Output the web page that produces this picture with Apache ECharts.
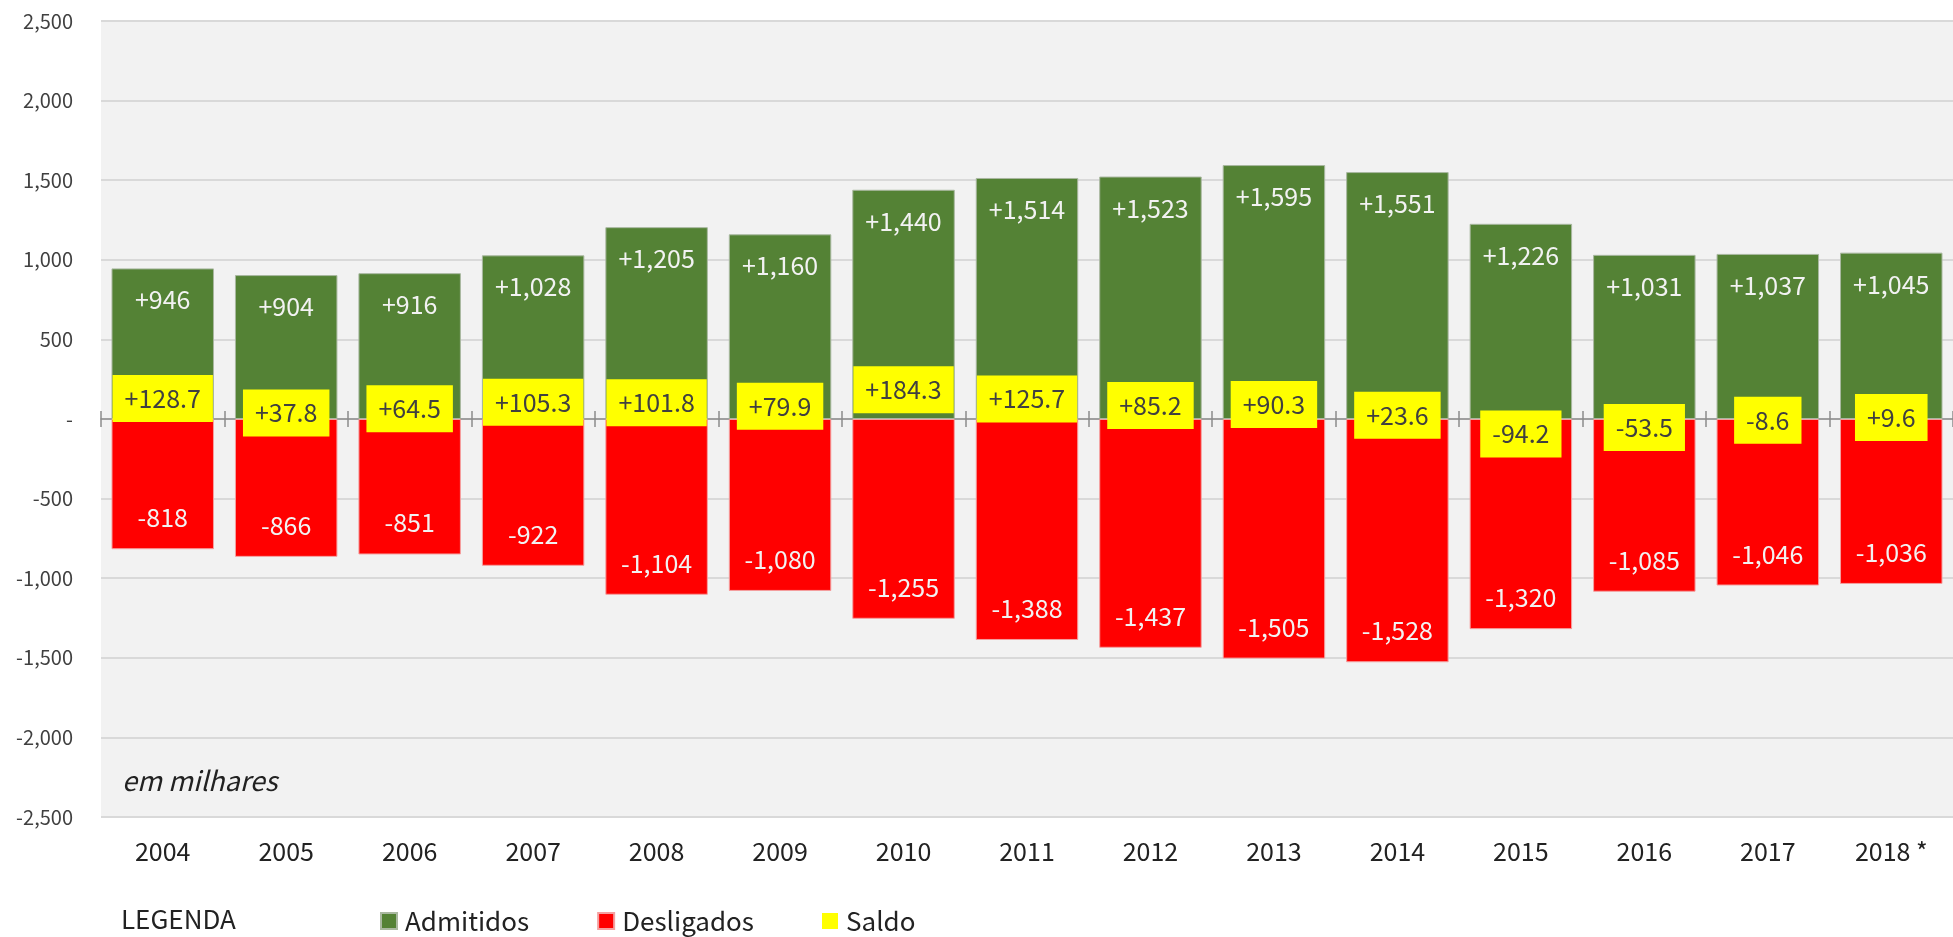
<!DOCTYPE html>
<html>
<head>
<meta charset="utf-8">
<script src="https://cdn.jsdelivr.net/npm/echarts@6/dist/echarts.min.js"></script>
<style>
  html, body { margin: 0; padding: 0; background: #ffffff; }
  #chart { width: 1953px; height: 937px; }
</style>
</head>
<body>
<div id="chart"></div>
<script>
const years = ['2004', '2005', '2006', '2007', '2008', '2009', '2010', '2011', '2012', '2013', '2014', '2015', '2016', '2017', '2018 *']
const admitidos = [946, 904, 916, 1028, 1205, 1160, 1440, 1514, 1523, 1595, 1551, 1226, 1031, 1037, 1045]
const desligados = [-818, -866, -851, -922, -1104, -1080, -1255, -1388, -1437, -1505, -1528, -1320, -1085, -1046, -1036]
const saldo = [128.7, 37.8, 64.5, 105.3, 101.8, 79.9, 184.3, 125.7, 85.2, 90.3, 23.6, -94.2, -53.5, -8.6, 9.6]

const FONT = '"Noto Sans CJK JP", "Noto Sans", sans-serif'
const fmt = v => v.toLocaleString('en-US')

const chart = echarts.init(document.getElementById('chart'))

// eixo das categorias (rotulos em baixo) + dois eixos so para a linha do zero e as marcas
const tickAxis = (pos) => ({
  type: 'category',
  data: years,
  position: pos,
  axisLine: { show: pos === 'bottom', onZero: true, onZeroAxisIndex: 0, lineStyle: { color: '#8c8c8c', width: 1.5 } },
  axisTick: { show: true, length: 8, lineStyle: { color: '#8c8c8c', width: 1.5 } },
  axisLabel: { show: false },
  splitLine: { show: false }
})

const option = {
  backgroundColor: '#ffffff',
  textStyle: { fontFamily: FONT },
  grid: {
    left: 101, right: 0, top: 21, bottom: 120,
    show: true, backgroundColor: '#f2f2f2', borderWidth: 0,
    outerBoundsMode: 'none'
  },
  legend: {
    left: 375, top: 903,
    icon: 'rect', itemWidth: 16, itemHeight: 16, itemGap: 68,
    textStyle: { fontSize: 26, color: '#222', fontFamily: FONT, padding: [0, 0, 0, 3] },
    data: ['Admitidos', 'Desligados', 'Saldo']
  },
  graphic: [
    { type: 'text', left: 121, top: 906, style: { text: 'LEGENDA', fontSize: 26, fill: '#222', fontFamily: FONT } },
    { type: 'text', left: 122, top: 767, style: { text: 'em milhares', fontSize: 27, fontStyle: 'italic', fill: '#222', fontFamily: FONT } }
  ],
  xAxis: [
    {
      type: 'category',
      data: years,
      position: 'bottom',
      axisLine: { show: false, onZero: false },
      axisTick: { show: false },
      axisLabel: { fontSize: 25, color: '#222', margin: 22 }
    },
    tickAxis('bottom'),
    tickAxis('top')
  ],
  yAxis: {
    type: 'value',
    min: -2500, max: 2500, interval: 500,
    axisLine: { show: false },
    axisTick: { show: false },
    axisLabel: { fontSize: 20, color: '#404040', margin: 28, formatter: v => v === 0 ? '-' : fmt(v) },
    splitLine: { lineStyle: { color: '#d9d9d9', width: 2 } }
  },
  series: [
    {
      name: 'Admitidos',
      type: 'bar',
      stack: 'total',
      barCategoryGap: '17%',
      data: admitidos,
      itemStyle: { color: '#548235', borderColor: '#a9b8a0', borderWidth: 1 },
      label: {
        show: true, position: 'insideTop', distance: 19,
        fontSize: 25, color: '#f2f2f2',
        formatter: p => '+' + fmt(p.value)
      }
    },
    {
      name: 'Desligados',
      type: 'bar',
      stack: 'total',
      data: desligados,
      itemStyle: { color: '#ff0000', borderColor: '#f4a0a0', borderWidth: 1 },
      label: {
        show: true, position: 'insideBottom', distance: 19,
        fontSize: 25, color: '#f2f2f2',
        formatter: p => fmt(p.value)
      }
    },
    {
      name: 'Saldo',
      type: 'scatter',
      data: saldo,
      symbol: 'rect',
      symbolSize: 1,
      itemStyle: { color: '#ffff00', opacity: 1 },
      z: 5,
      label: {
        show: true, position: 'inside',
        fontSize: 25, color: '#404040',
        backgroundColor: '#ffff00',
        padding: [11, 12],
        formatter: p => (p.value > 0 ? '+' : '') + p.value.toFixed(1)
      }
    }
  ]
}

chart.setOption(option)
</script>
</body>
</html>
